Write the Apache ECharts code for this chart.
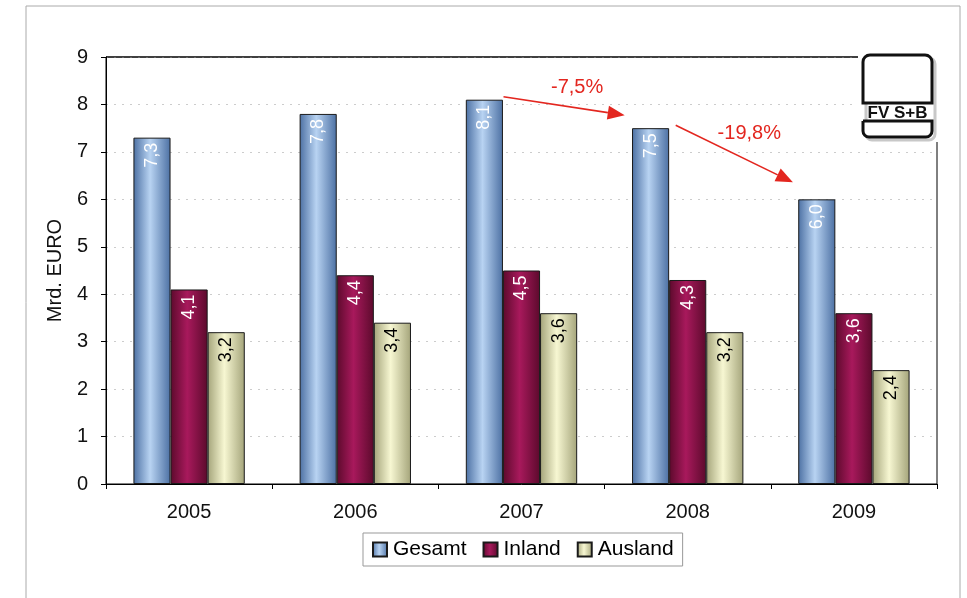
<!DOCTYPE html>
<html><head><meta charset="utf-8">
<script src="https://cdn.jsdelivr.net/npm/echarts@6/dist/echarts.min.js"></script>
<style>html,body{margin:0;padding:0;background:#fff}#c{width:967px;height:598px}</style>
</head><body><div id="c"></div>
<script>
const categories = ['2005','2006','2007','2008','2009'];
const gesamt = [7.3, 7.8, 8.1, 7.5, 6.0];
const inland = [4.1, 4.4, 4.5, 4.3, 3.6];
const ausland = [3.2, 3.4, 3.6, 3.2, 2.4];
const yTicks = [0,1,2,3,4,5,6,7,8,9];
const changes = [{from: 2, to: 3, label: '-7,5%'}, {from: 3, to: 4, label: '-19,8%'}];

const chart = echarts.init(document.getElementById('c'));
function grad(edge, mid){
  return {type:'linear',x:0,y:0,x2:1,y2:0,colorStops:[
    {offset:0,color:edge},{offset:0.45,color:mid},{offset:1,color:edge}]};
}
const fmt = p => p.value.toFixed(1).replace('.', ',');
const ff = 'Liberation Sans, Arial, sans-serif';
function lbl(color){
  return {show:true, position:'insideTop', rotate:90, align:'right', verticalAlign:'middle',
    distance:5, color:color, fontSize:18, fontFamily:ff, formatter:fmt};
}
chart.setOption({
  animation:false,
  backgroundColor:'#fff',
  grid:{left:106, right:30, top:57, bottom:114, show:true, borderColor:'#000', borderWidth:1},
  legend:{top:533, left:363, itemWidth:14, itemHeight:14, itemGap:16, icon:'rect',
    borderColor:'#999', borderWidth:1, padding:[6,9,6,9],
    textStyle:{fontSize:21, fontFamily:ff, color:'#000', padding:[0,0,0,1]},
    data:['Gesamt','Inland','Ausland']},
  xAxis:{type:'category', data:categories,
    axisLine:{lineStyle:{color:'#000'}},
    axisTick:{show:true, length:5, lineStyle:{color:'#000'}},
    axisLabel:{fontSize:20, fontFamily:ff, color:'#111', margin:18}},
  yAxis:{type:'value', min:0, max:9, interval:1, name:'Mrd. EURO', nameLocation:'middle', nameGap:38,
    nameTextStyle:{fontSize:20, fontFamily:ff, color:'#111'},
    axisLine:{show:true, lineStyle:{color:'#000'}},
    axisTick:{show:true, length:5, lineStyle:{color:'#000'}},
    axisLabel:{fontSize:20, fontFamily:ff, color:'#111', margin:18, formatter:v => yTicks.includes(v) ? String(v) : ''},
    splitLine:{show:true, lineStyle:{color:'#ccc', type:[2,6]}}},
  series:[
    {name:'Gesamt', type:'bar', data:gesamt, barGap:'0%', barCategoryGap:'33%',
      itemStyle:{color:grad('#4c70a3','#b8d3f2'), borderColor:'#1a1a1a', borderWidth:1},
      label:lbl('#fff')},
    {name:'Inland', type:'bar', data:inland,
      itemStyle:{color:grad('#5c0a2c','#a8195c'), borderColor:'#1a1a1a', borderWidth:1},
      label:lbl('#fff')},
    {name:'Ausland', type:'bar', data:ausland,
      itemStyle:{color:grad('#a4a47a','#f7f7d2'), borderColor:'#1a1a1a', borderWidth:1},
      label:lbl('#000')}
  ]
});

function px(ci, v){ return chart.convertToPixel({gridIndex:0},[ci, v]); }
const topY = chart.convertToPixel({yAxisIndex:0}, 9);
const gfx = [
  {type:'rect', shape:{x:26,y:6,width:934,height:600}, style:{fill:'none', stroke:'#aaa', lineWidth:1}, silent:true, z:-1},
  {type:'line', shape:{x1:106, y1:topY, x2:937, y2:topY}, style:{stroke:'#000', lineWidth:1.2}, z:4}
];
const red = '#e3261f';
changes.forEach((c,i) => {
  const a = px(c.from, gesamt[c.from]);
  const b = px(c.to, gesamt[c.to]);
  const x1 = a[0] - (i===0?18:12), y1 = a[1] - 3;
  const x2 = b[0] - (i===0?63:61), y2 = b[1] - (i===0?13:17);
  const ang = Math.atan2(y2-y1, x2-x1);
  const L = 17, W = 7;
  const hx = x2 - L*Math.cos(ang), hy = y2 - L*Math.sin(ang);
  gfx.push({type:'line', shape:{x1:x1,y1:y1,x2:hx,y2:hy}, style:{stroke:red, lineWidth:1.6}, z:10});
  gfx.push({type:'polygon', shape:{points:[[x2,y2],[hx - W*Math.sin(ang), hy + W*Math.cos(ang)],[hx + W*Math.sin(ang), hy - W*Math.cos(ang)]]},
    style:{fill:red}, z:10});
  gfx.push({type:'text', x:(x1+x2)/2 + (i===0?13:15), y:(y1+y2)/2 - (i===0?18:20), z:10,
    style:{text:c.label, fill:red, fontSize:20, fontFamily:ff, align:'center', verticalAlign:'middle'}});
});
// logo
gfx.push({type:'rect', shape:{x:858,y:50,width:82,height:92}, style:{fill:'#fff'}, z:5});
gfx.push({type:'rect', shape:{x:866,y:58,width:69,height:82,r:6}, style:{fill:'none', stroke:'#c8c8c8', lineWidth:3}, z:5});
gfx.push({type:'rect', shape:{x:863,y:55,width:69,height:48,r:[7,7,0,0]}, style:{fill:'#fff', stroke:'#111', lineWidth:3}, z:6});
gfx.push({type:'rect', shape:{x:863,y:121,width:69,height:16,r:[0,0,6,6]}, style:{fill:'#fff', stroke:'#111', lineWidth:3}, z:6});
gfx.push({type:'text', x:897.5, y:113, z:7, style:{text:'FV S+B', fill:'#111', fontSize:17, fontWeight:'bold', fontFamily:ff, align:'center', verticalAlign:'middle'}});
chart.setOption({graphic:gfx});
</script>
</body></html>
